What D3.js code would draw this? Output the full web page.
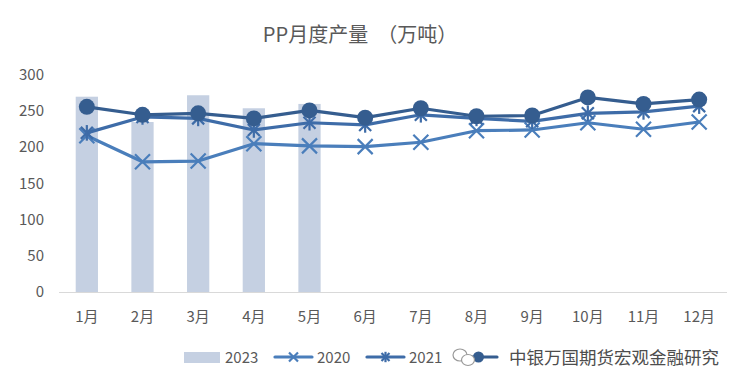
<!DOCTYPE html>
<html>
<head>
<meta charset="utf-8">
<script src="https://cdn.jsdelivr.net/npm/d3@7.9.0/dist/d3.min.js"></script>
<style>
  body { margin: 0; background: #fff; }
  text { font-family: "Noto Sans CJK SC", "Noto Sans", sans-serif; }
</style>
</head>
<body>
<svg id="chart" width="751" height="389"></svg>
<script>
// data
const months = ['1月', '2月', '3月', '4月', '5月', '6月', '7月', '8月', '9月', '10月', '11月', '12月'];
const yTicks = [0, 50, 100, 150, 200, 250, 300];
const v2023 = [270, 235, 272, 254, 260];
const v2020 = [216, 180, 181, 205, 202, 201, 207, 223, 224, 234, 225, 235];
const v2021 = [220, 242, 240, 224, 234, 231, 245, 240, 236, 247, 249, 257];
const v2022 = [256, 245, 247, 240, 251, 241, 254, 243, 244, 269, 260, 266];

const svg = d3.select('#chart');
const grey = '#595959';

const x = d3.scaleBand().domain(months).range([59, 727]).paddingInner(0.6).paddingOuter(0.3);
const y = d3.scaleLinear().domain([0, 300]).range([292, 75]);
const cx = (i) => x(months[i]) + x.bandwidth() / 2;

// title
svg.append('text')
  .attr('x', 360).attr('y', 42)
  .attr('text-anchor', 'middle')
  .attr('font-size', 20)
  .attr('fill', grey)
  .style('white-space', 'pre')
  .text('PP月度产量  （万吨）');

// y labels (no gridlines)
svg.selectAll('.ylab')
  .data(yTicks)
  .enter()
  .append('text')
  .attr('x', 44)
  .attr('y', (d) => y(d) + 5)
  .attr('text-anchor', 'end')
  .attr('font-size', 15)
  .attr('fill', grey)
  .text((d) => d);

// bars 2023
svg.selectAll('.bar')
  .data(v2023)
  .enter()
  .append('rect')
  .attr('x', (d, i) => x(months[i]))
  .attr('y', (d) => y(d))
  .attr('width', x.bandwidth())
  .attr('height', (d) => y(0) - y(d))
  .attr('fill', '#c5d0e2');

// baseline
svg.append('line')
  .attr('x1', 59).attr('x2', 727)
  .attr('y1', y(0) + 0.5).attr('y2', y(0) + 0.5)
  .attr('stroke', '#d9d9d9').attr('stroke-width', 1);

// x labels
svg.selectAll('.xlab')
  .data(months)
  .enter()
  .append('text')
  .attr('x', (d, i) => cx(i))
  .attr('y', 322)
  .attr('text-anchor', 'middle')
  .attr('font-size', 15)
  .attr('fill', grey)
  .text((d) => d);

const line = d3.line().x((d, i) => cx(i)).y((d) => y(d));

function drawX(g, px, py, r, color) {
  g.append('path')
    .attr('d', `M${px - r},${py - r}L${px + r},${py + r}M${px - r},${py + r}L${px + r},${py - r}`)
    .attr('stroke', color).attr('stroke-width', 2.2).attr('fill', 'none');
}
function drawStar(g, px, py, r, color) {
  drawX(g, px, py, r, color);
  g.append('path')
    .attr('d', `M${px},${py - r * 1.3}L${px},${py + r * 1.3}`)
    .attr('stroke', color).attr('stroke-width', 2.2);
}

const series = [
  { name: '2020', values: v2020, color: '#4a7ebb', marker: 'x' },
  { name: '2021', values: v2021, color: '#3e6ca8', marker: 'star' },
  { name: '2022', values: v2022, color: '#355d8f', marker: 'circle' },
];

series.forEach((s) => {
  const g = svg.append('g');
  g.append('path')
    .attr('d', line(s.values))
    .attr('fill', 'none')
    .attr('stroke', s.color)
    .attr('stroke-width', 3.2)
    .attr('stroke-linejoin', 'round');
  s.values.forEach((v, i) => {
    if (s.marker === 'x') drawX(g, cx(i), y(v), 7.5, s.color);
    else if (s.marker === 'star') drawStar(g, cx(i), y(v), 6, s.color);
    else g.append('circle').attr('cx', cx(i)).attr('cy', y(v)).attr('r', 8).attr('fill', s.color);
  });
});

// legend
const ly = 357;
const leg = svg.append('g');
leg.append('rect').attr('x', 184).attr('y', ly - 5).attr('width', 36).attr('height', 11).attr('fill', '#c5d0e2');
leg.append('text').attr('x', 225).attr('y', ly + 6).attr('font-size', 15).attr('fill', grey).text('2023');

// the 2022 label sits under the watermark in the reference, so only its line is drawn
const legItems = [
  { s: series[0], x0: 275, tx: 317, label: true },
  { s: series[1], x0: 367, tx: 409, label: true },
  { s: series[2], x0: 460, tx: 502, label: false },
];
legItems.forEach((it) => {
  leg.append('line')
    .attr('x1', it.x0).attr('x2', it.x0 + 37)
    .attr('y1', ly).attr('y2', ly)
    .attr('stroke', it.s.color).attr('stroke-width', 3.2).attr('stroke-linecap', 'round');
  const mx = it.x0 + 18.5;
  if (it.s.marker === 'x') drawX(leg, mx, ly, 4.5, it.s.color);
  else if (it.s.marker === 'star') drawStar(leg, mx, ly, 4, it.s.color);
  else leg.append('circle').attr('cx', mx).attr('cy', ly).attr('r', 5.5).attr('fill', it.s.color);
  if (it.label) {
    leg.append('text').attr('x', it.tx).attr('y', ly + 6).attr('font-size', 15).attr('fill', grey).text(it.s.name);
  }
});

// watermark
const wm = svg.append('g');
wm.append('ellipse').attr('cx', 460).attr('cy', ly - 2).attr('rx', 7).attr('ry', 6)
  .attr('fill', '#fff').attr('stroke', '#999').attr('stroke-width', 1.2);
wm.append('ellipse').attr('cx', 468).attr('cy', ly + 3).attr('rx', 6.5).attr('ry', 5.5)
  .attr('fill', '#fff').attr('stroke', '#999').attr('stroke-width', 1.2);
wm.append('text')
  .attr('x', 509).attr('y', ly + 7)
  .attr('font-size', 17.5)
  .attr('fill', '#4d4d4d')
  .attr('stroke', '#fff').attr('stroke-width', 2.5).attr('paint-order', 'stroke')
  .text('中银万国期货宏观金融研究');
</script>
</body>
</html>
